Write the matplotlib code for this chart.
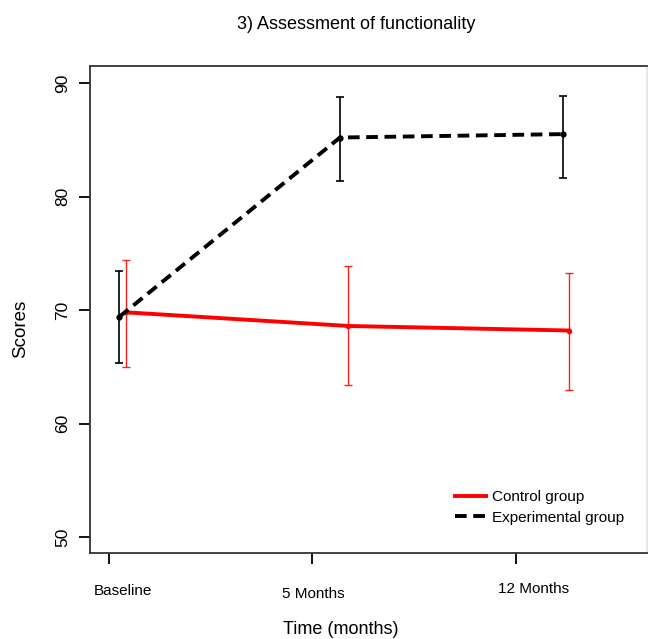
import matplotlib
matplotlib.use("Agg")
import matplotlib.pyplot as plt
import matplotlib.transforms as mtrans

plt.rcParams['font.family'] = ['Liberation Sans', 'DejaVu Sans']

# time points and labels
tick_pos = [0, 1, 2]
tick_labels = ['Baseline', '5 Months', '12 Months']

# plotted positions of the two groups (slightly shifted from the ticks)
exp_x = [0.05, 1.135, 2.23]
ctrl_x = [0.085, 1.175, 2.26]

# experimental group: mean, lower and upper limits
exp_mean = [69.4, 85.2, 85.5]
exp_low = [65.3, 81.4, 81.6]
exp_high = [73.4, 88.8, 88.9]

# control group
ctrl_mean = [69.8, 68.6, 68.2]
ctrl_low = [65.0, 63.4, 63.0]
ctrl_high = [74.4, 73.9, 73.3]

fig = plt.figure(figsize=(6.49, 6.39), dpi=100)
ax = fig.add_axes([0.1387, 0.1346, 0.8582, 0.7621])

# error bars
exp_err = [[m - lo for m, lo in zip(exp_mean, exp_low)],
           [hi - m for m, hi in zip(exp_mean, exp_high)]]
ctrl_err = [[m - lo for m, lo in zip(ctrl_mean, ctrl_low)],
            [hi - m for m, hi in zip(ctrl_mean, ctrl_high)]]
ax.errorbar(exp_x, exp_mean, yerr=exp_err, fmt='none', ecolor='black',
            elinewidth=1.2, capsize=3, capthick=1.2, zorder=2)
ax.errorbar(ctrl_x, ctrl_mean, yerr=ctrl_err, fmt='none', ecolor='#ff2020',
            elinewidth=1.0, capsize=3, capthick=1.0, zorder=2)

# lines
ax.plot(ctrl_x, ctrl_mean, color='red', lw=2.8, label='Control group', zorder=3)
ax.plot(ctrl_x, ctrl_mean, 'o', color='red', markersize=3, zorder=3)
ax.plot(exp_x, exp_mean, color='black', lw=2.8, dashes=[3, 1.7],
        label='Experimental group', zorder=4)
ax.plot(exp_x, exp_mean, 'o', color='black', markersize=3.5, zorder=4)

ax.set_xlim(-0.0934, 2.644)
ax.set_ylim(48.6, 91.5)

ax.set_xticks(tick_pos)
ax.set_xticklabels(tick_labels, fontsize=11)
ax.set_yticks([50, 60, 70, 80, 90])
ax.set_yticklabels(['50', '60', '70', '80', '90'], fontsize=12.5,
                   rotation=90, va='center')
ax.tick_params(axis='x', length=8, width=1.3, pad=14)
ax.tick_params(axis='y', length=8, width=1.3, pad=6)

# small offsets of the x tick labels as in the original
offsets = [(14, 0), (1, -3), (18, 2)]
for lab, (dx, dy) in zip(ax.get_xticklabels(), offsets):
    lab.set_transform(lab.get_transform() +
                      mtrans.ScaledTranslation(dx / 100, dy / 100, fig.dpi_scale_trans))

for s in ax.spines.values():
    s.set_linewidth(1.3)
    s.set_color('#333333')
ax.spines['right'].set_color('#e4e4e4')

ax.set_xlabel('Time (months)', fontsize=13)
ax.xaxis.set_label_coords(0.45, -0.158)
ax.xaxis.label.set_va('center')
ax.set_ylabel('Scores', fontsize=13.5)
ax.yaxis.set_label_coords(-0.125, 0.46)
ax.yaxis.label.set_va('center')
fig.text(0.549, 0.962, '3) Assessment of functionality', ha='center',
         va='center', fontsize=13)

leg = ax.legend(loc='upper left', bbox_to_anchor=(0.645, 0.142),
                frameon=False, fontsize=11, handlelength=2.0,
                handletextpad=0.4, labelspacing=0.45, borderaxespad=0)

fig.savefig('out.png', dpi=100)
